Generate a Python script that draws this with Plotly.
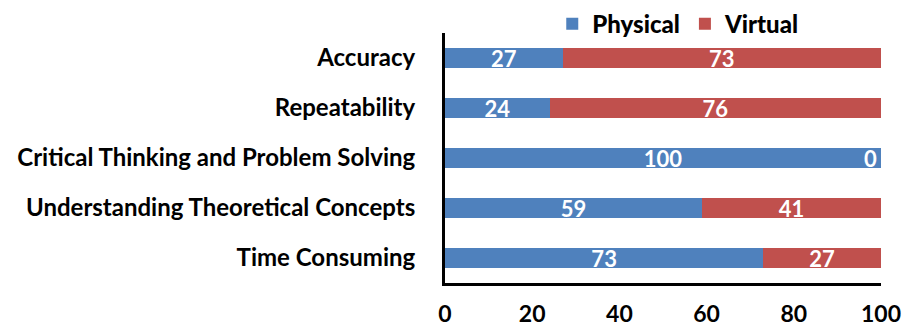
import plotly.graph_objects as go

categories = ["Accuracy", "Repeatability", "Critical Thinking and Problem Solving",
              "Understanding Theoretical Concepts", "Time Consuming"]
physical = [27, 24, 100, 59, 73]
virtual = [73, 76, 0, 41, 27]
series_names = ["Physical", "Virtual"]
colors = ["#4F81BD", "#C0504D"]
x_ticks = [0, 20, 40, 60, 80, 100]

FONT = "Lato"
SZ = 24
fig = go.Figure()
for name, vals, col in zip(series_names, [physical, virtual], colors):
    fig.add_trace(go.Bar(
        y=categories, x=vals, name=name, orientation="h",
        marker=dict(color=col, line=dict(width=0)),
        text=[str(v) if v > 0 else "" for v in vals],
        textposition="inside", insidetextanchor="middle",
        textangle=0, constraintext="none",
        textfont=dict(family=FONT, size=22, color="white", weight="bold"),
        width=0.4,
    ))

# zero-valued labels (drawn at the end of the stack like the original)
for cat, p, v in zip(categories, physical, virtual):
    if v == 0:
        fig.add_annotation(x=p + v, y=cat, text="0", showarrow=False,
                           xanchor="right", xshift=-2,
                           font=dict(family=FONT, size=22, color="white", weight="bold"))

fig.update_layout(
    barmode="stack",
    width=902, height=329,
    margin=dict(l=445, r=21, t=33, b=46, autoexpand=False),
    plot_bgcolor="white", paper_bgcolor="white",
    font=dict(family=FONT, size=SZ, color="black", weight="bold"),
    uniformtext=dict(mode=False),
    legend=dict(orientation="h", x=0.535, xanchor="center", y=1.035, yanchor="middle",
                font=dict(family=FONT, size=SZ, color="black", weight=900),
                itemwidth=30, traceorder="normal", bgcolor="rgba(0,0,0,0)"),
    xaxis=dict(range=[0, 100], tickvals=x_ticks, showgrid=False, zeroline=False,
               showline=True, linecolor="black", linewidth=3, ticks="",
               ticklabelstandoff=8,
               tickfont=dict(family=FONT, size=23, color="black", weight="bold")),
    yaxis=dict(categoryorder="array", categoryarray=categories[::-1], autorange=True,
               showgrid=False, zeroline=False, showline=True, linecolor="black",
               linewidth=3, ticks="", ticklabelstandoff=22,
               tickfont=dict(family=FONT, size=SZ, color="black", weight="bold")),
)

fig.write_html("out.html")
